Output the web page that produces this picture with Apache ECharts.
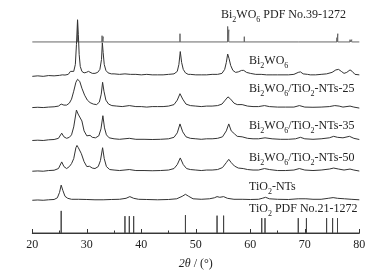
<!DOCTYPE html>
<html>
<head>
<meta charset="utf-8">
<script src="https://cdn.jsdelivr.net/npm/echarts@6/dist/echarts.min.js"></script>
<style>
html, body { margin: 0; padding: 0; background: #fff; }
#xrd { width: 383px; height: 275px; }
</style>
</head>
<body>
<div id="xrd"></div>
<script>
// 2theta ticks
const xTicks = [20, 30, 40, 50, 60, 70, 80];

// stacked patterns, y (arbitrary offset units)
const bi2wo6 = [[20,158],[21,158.5],[22,158],[23,158.8],[24,158.5],[25,159],[25.5,159.5],[26,159.3],[26.6,160],[27,163],[27.3,161],[27.6,163],[27.9,170],[28.1,190],[28.3,215],[28.45,200],[28.6,180],[28.8,168],[29.1,163],[29.5,161.5],[29.9,162],[30.3,163],[30.6,162],[31,161],[31.5,161],[32,162],[32.4,165],[32.7,175],[32.85,192],[33.0,182],[33.2,170],[33.5,164],[33.9,161.5],[34.5,160.5],[35,160.5],[36,160],[37,160.5],[38,160],[39,160],[40,159.5],[41,160],[42,159.5],[43,159.5],[44,159.5],[45,160],[46,160.5],[46.6,163],[46.9,170],[47.15,183],[47.4,172],[47.7,165],[48.1,161.5],[48.6,160],[49,160],[50,159.5],[51,159.5],[52,159.5],[53,160],[54,160],[54.8,161],[55.3,165],[55.6,172],[55.85,180.5],[56.1,176],[56.4,169],[56.8,164],[57.3,162],[57.8,162.5],[58.4,164],[58.8,164],[59.3,162],[60,161],[61,160],[62,160],[63,159.5],[64,159.5],[65,159.5],[66,159.5],[67,159.5],[68,160],[68.8,162],[69.2,162.5],[69.7,160.5],[70.5,160],[71,159.5],[72,159.5],[73,160],[74,160.5],[75,162],[75.7,164.5],[76.2,165],[76.7,163],[77.2,161],[77.7,162],[78.3,164.5],[78.7,163],[79.2,160],[80,159.5]];

const nts25 = [[20,126.5],[21,126.8],[22,126.5],[23,127],[24,127.3],[24.8,128],[25.3,130],[25.8,129],[26.3,129],[26.8,131],[27.2,135],[27.6,143],[28,152],[28.3,155],[28.7,153],[29.1,146],[29.6,139],[30.1,134],[30.6,131.5],[31.2,130],[31.8,129.5],[32.3,132],[32.65,140],[32.9,152],[33.15,143],[33.5,134],[34,130],[34.6,128.5],[35.5,128],[36.5,127.5],[37.8,128.5],[39,127.5],[40,127.5],[41,127],[42,127.5],[43,127.5],[44,127.5],[45,128],[46,129.5],[46.6,134],[47.1,140.5],[47.6,135],[48.2,130],[49,128.5],[50,128],[51,127.5],[52,128],[53,128],[54,128.5],[54.8,130],[55.4,134],[55.9,137.3],[56.4,135],[57,131],[57.6,129.5],[58.5,129.5],[59.5,128],[60.5,127.5],[61.5,127.5],[62.6,128.5],[63.5,127.5],[65,127],[66.5,127],[68,127],[69,128.5],[70,127],[71.5,126.8],[73,127],[74.5,127.5],[75.5,128.5],[76.3,128],[77,127],[78.3,128],[79,127],[80,126]];

const nts35 = [[20,93.3],[21,93.6],[22,93.3],[23,94],[24,94.3],[24.8,95.5],[25.4,100.7],[25.8,97],[26.3,95.5],[26.8,96.5],[27.2,99],[27.6,107],[28.1,124],[28.4,120],[28.75,122],[29.1,113],[29.5,103],[30,98],[30.6,98.5],[31,96.5],[31.6,96],[32.2,98],[32.6,105],[32.95,118.3],[33.25,106],[33.6,99],[34.1,96],[35,95],[36,94.5],[37.8,95.5],[39,94.5],[40.5,94.5],[42,94.3],[43.5,94.5],[45,95],[46,96.5],[46.6,101],[47.1,110],[47.6,102],[48.2,97],[49,95.5],[50,95],[51,94.5],[52,95],[53,95],[54,95.5],[54.9,97],[55.6,103],[56.05,110],[56.5,103],[57.1,100],[57.6,97.5],[58.5,97],[59.5,95.5],[60.5,95],[61.5,95],[62.7,96],[64,95],[65.5,94.5],[67,94.5],[68.3,95],[69.2,96.5],[70,95],[71.5,94.5],[73,95],[74.5,96],[75.3,97.5],[76,96.5],[77,96],[78.2,97.5],[79,95.5],[80,94.3]];

const nts50 = [[20,62.3],[21,62.6],[22,62.3],[23,63],[24,63.3],[24.8,65],[25.4,71.7],[25.8,67],[26.3,65],[26.8,67],[27.2,70],[27.6,75],[28.0,86],[28.2,88.3],[28.45,86],[28.7,87],[29.0,80],[29.5,72],[30,67],[30.5,67.3],[31,65.5],[31.5,65],[32.1,67],[32.5,73],[32.9,86],[33.2,75],[33.6,67],[34.2,64],[35,63.5],[36,63],[37.8,64],[39,63],[40.5,63],[42,62.8],[43.5,63],[45,63.5],[46,65],[46.6,69],[47.15,75.7],[47.7,69],[48.3,65],[49,64],[50,63.5],[51,63],[52,63.5],[53,63.5],[54,64],[54.9,66],[55.6,71],[56.05,74.3],[56.5,71],[57.1,67.5],[57.8,65.5],[58.7,65],[59.5,64],[60.5,63.5],[61.5,63.5],[62.6,65],[63.5,64],[65,63],[66.5,63],[68,63.5],[69,65],[70,63.5],[71.5,63],[73,63.5],[74.5,64.5],[75.3,65.5],[76.2,64.5],[77.2,63.5],[78.3,64.5],[79,63.5],[80,62.5]];

const tio2nts = [[20,33],[21,33.3],[22,33],[23,33.5],[24,33.8],[24.6,35.5],[25,41],[25.3,48.3],[25.6,43],[26,37],[26.5,35],[27.2,34],[28.5,34],[30,33.8],[31.5,33.5],[33,33.5],[34.5,33.8],[36,34],[37.2,35],[37.9,36.7],[38.6,35],[39.5,34],[41,33.8],[43,33.5],[45,33.8],[46.5,34.5],[47.5,37],[48.1,39],[48.7,37],[49.5,34.5],[51,34],[52.5,34.5],[53.4,35.5],[53.9,36.7],[54.4,36],[55.1,36.7],[55.8,35],[57,34],[58.5,34],[60,33.8],[61.5,34],[62.2,35],[62.8,36],[63.5,34.5],[65,34],[67,33.8],[68.8,34.5],[70.2,34.5],[71.5,34],[73,34],[74.3,35],[75.2,35.7],[76,35],[77.3,34.5],[78.5,34],[80,33.5]];

// reference sticks: position, top value
const bi2wo6PdfBase = 192.7;
const bi2wo6PdfPos = [28.3, 32.8, 33.0, 47.1, 55.85, 56.05, 58.9, 68.8, 75.9, 76.05, 78.3, 78.6];
const bi2wo6PdfTop = [215, 199, 198, 201, 208.3, 205, 198, 194, 197, 201, 195, 195];

const tio2PdfBase = 0;
const tio2PdfPos = [25.3, 37.0, 37.8, 38.6, 48.1, 53.9, 55.1, 62.1, 62.7, 68.8, 70.3, 74.0, 75.1, 76.0];
const tio2PdfTop = [22.3, 17, 17, 17, 18, 17.5, 17.5, 15, 15, 15, 15, 15, 15, 15];

function stickLine(base, pos, top) {
    let pts = [[20, base]];
    pos.forEach((p, i) => {
        pts.push([p, base], [p, top[i]], [p, base]);
    });
    pts.push([80, base]);
    return pts;
}

const sub = { fontSize: 8, fontFamily: 'Liberation Serif', verticalAlign: 'bottom', padding: [0, 0, -3, 0] };
const labels = [
    { t: 'Bi{s|2}WO{s|6} PDF No.39-1272', x: 221, y: 16 },
    { t: 'Bi{s|2}WO{s|6}', x: 249, y: 62 },
    { t: 'Bi{s|2}WO{s|6}/TiO{s|2}-NTs-25', x: 249, y: 90 },
    { t: 'Bi{s|2}WO{s|6}/TiO{s|2}-NTs-35', x: 249, y: 126.5 },
    { t: 'Bi{s|2}WO{s|6}/TiO{s|2}-NTs-50', x: 249, y: 159 },
    { t: 'TiO{s|2}-NTs', x: 249, y: 188 },
    { t: 'TiO{s|2} PDF No.21-1272', x: 249, y: 210 }
];

function curve(data, color) {
    return {
        type: 'line', data: data, symbol: 'none', silent: true,
        lineStyle: { color: color, width: 1 }
    };
}

let chart = echarts.init(document.getElementById('xrd'));
chart.setOption({
    animation: false,
    grid: { left: 32.3, right: 23.7, top: 0, bottom: 40 },
    xAxis: {
        type: 'value', min: xTicks[0], max: xTicks[xTicks.length - 1], interval: 10,
        name: '{i|2θ} / (°)', nameLocation: 'middle', nameGap: 25,
        nameTextStyle: {
            fontFamily: 'Liberation Serif', fontSize: 12, color: '#222',
            rich: { i: { fontFamily: 'Liberation Serif', fontSize: 12, fontStyle: 'italic', color: '#222' } }
        },
        axisLine: { lineStyle: { color: '#333', width: 1 } },
        axisTick: { inside: true, length: 4, lineStyle: { color: '#333' } },
        minorTick: { show: true, splitNumber: 2, length: 2.5, lineStyle: { color: '#333' } },
        splitLine: { show: false },
        axisLabel: { fontFamily: 'Liberation Serif', fontSize: 12, color: '#222', margin: 6 }
    },
    yAxis: { type: 'value', min: 0, max: 235, show: false },
    series: [
        curve(stickLine(bi2wo6PdfBase, bi2wo6PdfPos, bi2wo6PdfTop), '#666'),
        curve(bi2wo6, '#333'),
        curve(nts25, '#333'),
        curve(nts35, '#333'),
        curve(nts50, '#333'),
        curve(tio2nts, '#333'),
        curve(stickLine(tio2PdfBase, tio2PdfPos, tio2PdfTop), '#444')
    ],
    graphic: labels.map(l => ({
        type: 'text', left: l.x, top: l.y - 7,
        style: {
            text: l.t, fill: '#222', font: '12px "Liberation Serif"',
            rich: { s: sub }
        }
    }))
});
</script>
</body>
</html>
